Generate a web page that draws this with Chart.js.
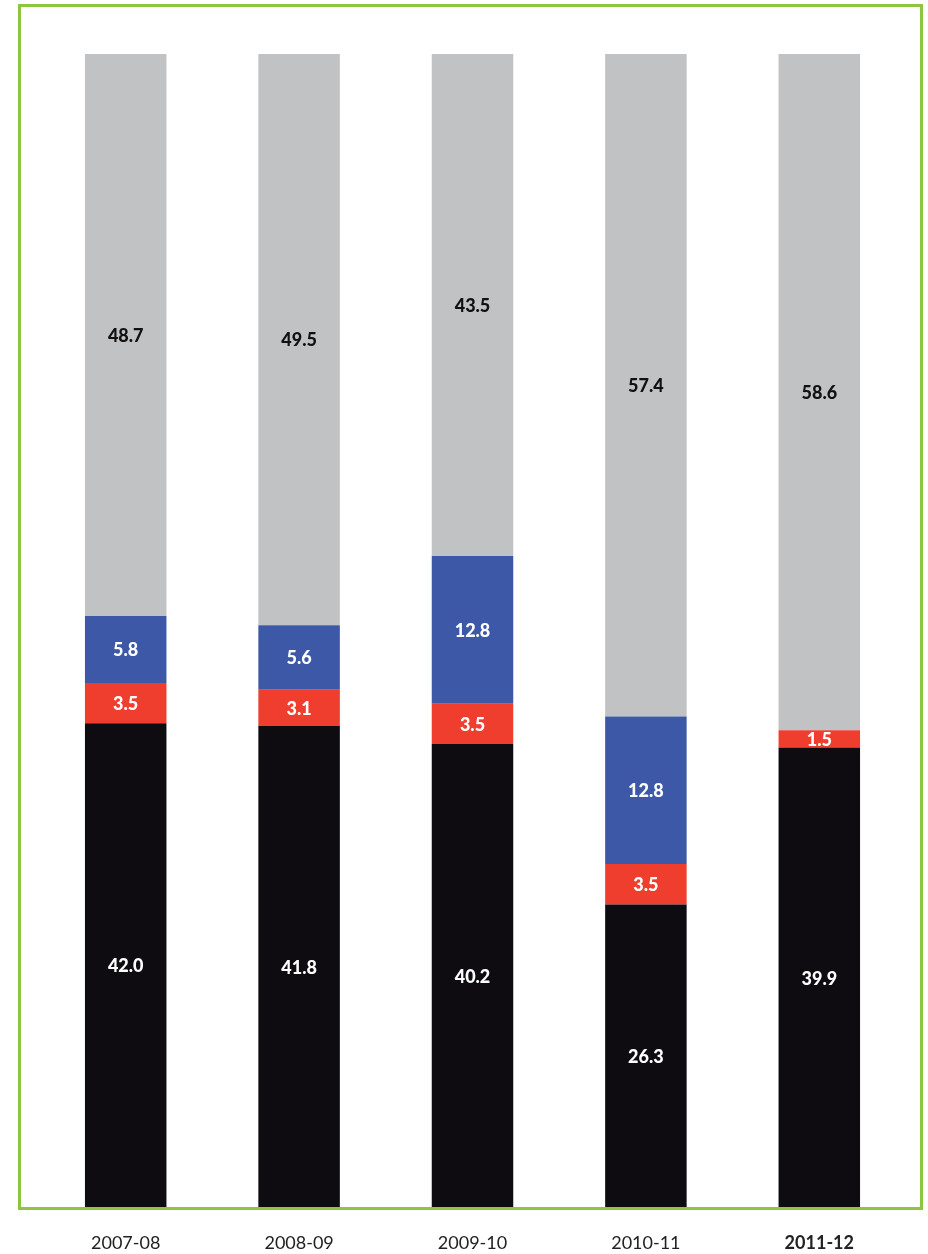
<!DOCTYPE html>
<html>
<head>
<meta charset="utf-8">
<script src="https://cdn.jsdelivr.net/npm/chart.js@4/dist/chart.umd.min.js"></script>
<style>
  html, body { margin: 0; padding: 0; background: #fff; }
  #wrap { width: 928px; height: 1254px; }
</style>
</head>
<body>
<div id="wrap"><canvas id="grafico"></canvas></div>
<script>
// años y porcentajes de cada tramo (suman 100 por año)
const anios = ['2007-08', '2008-09', '2009-10', '2010-11', '2011-12'];
const negro = [42.0, 41.8, 40.2, 26.3, 39.9];
const rojo = [3.5, 3.1, 3.5, 3.5, 1.5];
const azul = [5.8, 5.6, 12.8, 12.8, 0];
const gris = [48.7, 49.5, 43.5, 57.4, 58.6];

const fuente = 'Lato, "Open Sans", sans-serif';

// marco verde alrededor del area de barras
const marco = {
    id: 'marco',
    afterDraw(chart) {
        const a = chart.chartArea;
        const ctx = chart.ctx;
        ctx.save();
        ctx.strokeStyle = '#8cc63f';
        ctx.lineWidth = 3;
        const izq = a.left - 19.5, der = a.right + 15.5;
        ctx.strokeRect(izq, 5.5, der - izq, a.bottom + 0.5 - 5.5);
        ctx.restore();
    }
};

// valores dentro de cada tramo
const etiquetas = {
    id: 'etiquetas',
    afterDatasetsDraw(chart) {
        const ctx = chart.ctx;
        ctx.save();
        ctx.font = '900 18px ' + fuente;
        ctx.textAlign = 'center';
        ctx.textBaseline = 'middle';
        chart.data.datasets.forEach((ds, i) => {
            const meta = chart.getDatasetMeta(i);
            meta.data.forEach((bar, j) => {
                const v = ds.data[j];
                if (!v) return;
                const p = bar.getProps(['x', 'y', 'base'], true);
                ctx.fillStyle = ds.colorTexto;
                ctx.fillText(v.toFixed(1), p.x, (p.y + p.base) / 2 + 1);
            });
        });
        ctx.restore();
    }
};

Chart.defaults.font.family = fuente;

const data = {
    labels: anios,
    datasets: [
        { data: negro, backgroundColor: '#0e0c11', colorTexto: '#fff' },
        { data: rojo, backgroundColor: '#ef3e2e', colorTexto: '#fff' },
        { data: azul, backgroundColor: '#3c58a6', colorTexto: '#fff' },
        { data: gris, backgroundColor: '#c1c2c4', colorTexto: '#111' }
    ]
};

const options = {
    responsive: true,
    maintainAspectRatio: false,
    animation: false,
    layout: { padding: { left: 39, right: 22, top: 54, bottom: 0 } },
    datasets: { bar: { categoryPercentage: 1, barPercentage: 0.47, borderWidth: 0 } },
    plugins: {
        legend: { display: false },
        tooltip: { enabled: false }
    },
    scales: {
        x: {
            stacked: true,
            grid: { display: false, drawTicks: false },
            border: { display: false },
            afterFit: (scale) => { scale.height = 46; },
            ticks: {
                color: '#222',
                padding: 24,
                font: (c) => ({ size: 18, weight: c.index === 4 ? 'bold' : 'normal' })
            }
        },
        y: {
            stacked: true,
            display: false,
            min: 0,
            max: 100
        }
    }
};

new Chart('grafico', { type: 'bar', data, options, plugins: [etiquetas, marco] });
</script>
</body>
</html>
